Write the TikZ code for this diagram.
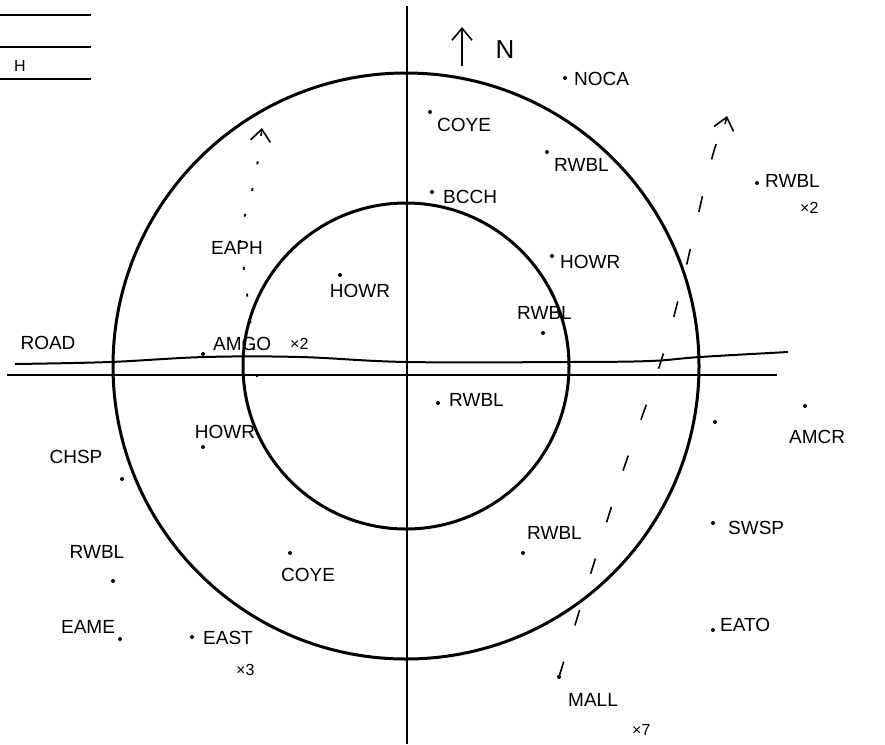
\documentclass[tikz,border=0pt]{standalone}
\usepackage{fontspec}
\setmainfont{Liberation Sans}
\usetikzlibrary{arrows.meta}
\begin{document}
\begin{tikzpicture}[x=1pt,y=-1pt,
  lbl/.style={font=\fontsize{19}{21}\selectfont, inner sep=0pt},
  small/.style={font=\fontsize{16}{18}\selectfont, inner sep=0pt},
  spot/.style={circle, fill=black, inner sep=0pt, minimum size=4pt},
  ring/.style={circle, draw, line width=3pt, inner sep=0pt},
  axis/.style={line width=2.4pt},
  roadline/.style={line width=2pt},
  barb/.style={-{Straight Barb[length=12pt,width=20pt,line width=1.6pt]}},
  trail/.style={line width=1.6pt, dash pattern=on 16pt off 38pt},
  dottrail/.style={line width=1.8pt, dash pattern=on 3pt off 24pt},
  tiphead/.style={line width=1.6pt, solid, barb},
  keyline/.style={line width=1.8pt}]
\useasboundingbox (0,0) rectangle (885,744);

% key lines top-left
\coordinate (k1a) at (0,15);  \coordinate (k1b) at (91,15);
\coordinate (k2a) at (0,47);  \coordinate (k2b) at (91,47);
\coordinate (k3a) at (0,79);  \coordinate (k3b) at (91,79);
\draw[keyline] (k1a) -- (k1b);
\draw[keyline] (k2a) -- (k2b);
\draw[keyline] (k3a) -- (k3b);
\node[small] (keyh) at (20,66) {H};

% circles
\coordinate (c) at (406,366);
\node[ring, minimum size=586pt] (outer) at (c) {};
\node[ring, minimum size=326pt] (inner) at (c) {};

% axes
\coordinate (ntop) at (407,6);
\coordinate (nbot) at (407,744);
\coordinate (wend) at (7,375);
\coordinate (eend) at (777,375);
\draw[axis] (ntop) -- (nbot);
\draw[axis] (wend) -- (eend);

% road
\draw[roadline] plot[smooth, tension=0.6] coordinates {(15,364) (110,362) (205,357) (300,357) (407,362) (570,362) (650,361) (700,357) (788,352)};
\node[lbl] (road) at (48,343) {ROAD};

% north arrow
\coordinate (na) at (462,66);
\coordinate (nb) at (462,27);
\draw[line width=1.8pt, barb] (na) -- (nb);
\node[lbl, font=\fontsize{26}{28}\selectfont] (north) at (505,50) {N};

% upper right quadrant
\node[spot] (dnoca) at (565,78) {};
\node[lbl, anchor=west] (noca) at (574,79) {NOCA};
\node[spot] (dcoye1) at (430,112) {};
\node[lbl, anchor=west] (coye1) at (437,125) {COYE};
\node[spot] (drwbl1) at (547,152) {};
\node[lbl, anchor=west] (rwbl1) at (554,165) {RWBL};
\node[spot] (dbcch) at (432,192) {};
\node[lbl, anchor=west] (bcch) at (443,197) {BCCH};
\node[spot] (dhowr1) at (552,256) {};
\node[lbl, anchor=west] (howr1) at (560,262) {HOWR};
\node[lbl, anchor=west] (rwbl2) at (517,313) {RWBL};
\node[spot] (drwbl2) at (543,333) {};
\node[spot] (drwbl3) at (757,183) {};
\node[lbl, anchor=west] (rwbl3) at (765,181) {RWBL};
\node[small, anchor=west] (x2a) at (800,208) {×2};

% upper left quadrant
\node[lbl] (eaph) at (237,248) {EAPH};
\node[spot] (dhowr2) at (340,275) {};
\node[lbl] (howr2) at (360,291) {HOWR};
\node[spot] (damgo) at (203,354) {};
\node[lbl, anchor=west] (amgo) at (213,344) {AMGO};
\node[small, anchor=west] (x2b) at (290,344) {×2};

% lower right quadrant
\node[spot] (drwbl4) at (438,403) {};
\node[lbl, anchor=west] (rwbl4) at (449,400) {RWBL};
\node[spot] (dx) at (715,422) {};
\node[spot] (damcr) at (805,406) {};
\node[lbl, anchor=west] (amcr) at (789,437) {AMCR};
\node[spot] (dswsp) at (713,523) {};
\node[lbl, anchor=west] (swsp) at (728,528) {SWSP};
\node[lbl, anchor=west] (rwbl5) at (527,533) {RWBL};
\node[spot] (drwbl5) at (523,553) {};
\node[spot] (deato) at (713,630) {};
\node[lbl, anchor=west] (eato) at (720,625) {EATO};
\node[spot] (dmall) at (559,677) {};
\node[lbl, anchor=west] (mall) at (568,700) {MALL};
\node[small, anchor=west] (x7) at (632,730) {×7};

% lower left quadrant
\node[spot] (dhowr3) at (203,447) {};
\node[lbl] (howr3) at (225,432) {HOWR};
\node[lbl] (chsp) at (76,457) {CHSP};
\node[spot] (dchsp) at (122,479) {};
\node[lbl] (rwbl6) at (97,552) {RWBL};
\node[spot] (drwbl6) at (113,581) {};
\node[spot] (dcoye2) at (290,553) {};
\node[lbl] (coye2) at (308,575) {COYE};
\node[lbl] (eame) at (88,627) {EAME};
\node[spot] (deame) at (120,639) {};
\node[spot] (deast) at (192,637) {};
\node[lbl, anchor=west] (east) at (203,638) {EAST};
\node[small, anchor=west] (x3) at (236,670) {×3};

% movement trails
\coordinate (ltop) at (262,128);
\coordinate (lpre) at (261,136);
\coordinate (lbot) at (257,377);
\draw[dottrail] plot[smooth, tension=0.6] coordinates {(lbot) (245,277) (240,235) (250,200) (258,160)};
\draw[tiphead] (lpre) -- (ltop);
\coordinate (rtop) at (727,116);
\coordinate (rpre) at (725,124);
\draw[trail] plot[smooth, tension=0.6] coordinates {(dmall) (575,625) (620,480) (668,338) (708,173) (718,140)};
\draw[tiphead] (rpre) -- (rtop);
\end{tikzpicture}
\end{document}
